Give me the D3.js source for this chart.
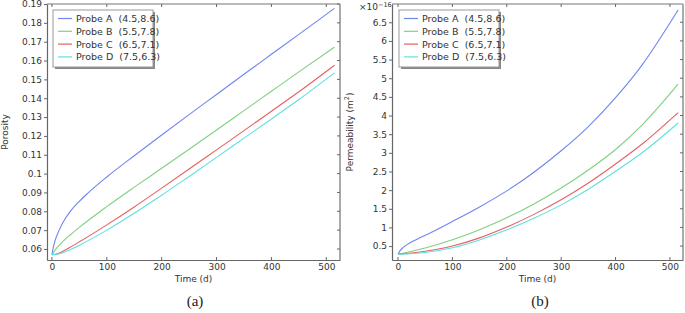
<!DOCTYPE html>
<html><head><meta charset="utf-8">
<script src="https://cdn.jsdelivr.net/npm/d3@7"></script>
<style>body{margin:0;background:#fff}svg{display:block}</style>
</head><body><svg id="c" width="685" height="313"></svg>
<script>
const probes = ["Probe A  (4.5,8.6)", "Probe B  (5.5,7.8)", "Probe C  (6.5,7.1)", "Probe D  (7.5,6.3)"];
const colors = ["#6f86ee", "#80d080", "#e66060", "#62e0e0"];

// Porosity (a)
const tA = [0, 3, 6, 12, 20, 33, 50, 65, 100, 150, 200, 250, 300, 350, 400, 450, 515];
const poroA = [0.057, 0.0615, 0.0647, 0.0692, 0.0741, 0.0798, 0.0853, 0.0895, 0.0982, 0.1095, 0.1205, 0.1313, 0.1420, 0.1527, 0.1633, 0.1739, 0.1877];
const tBCD = [0, 10, 20, 33, 50, 100, 150, 200, 250, 300, 350, 400, 450, 515];
const poroB = [0.057, 0.061, 0.064, 0.0674, 0.0715, 0.0825, 0.0928, 0.1028, 0.1129, 0.1231, 0.1334, 0.1437, 0.1540, 0.1671];
const poroC = [0.057, 0.0575, 0.0588, 0.0609, 0.0638, 0.0728, 0.0823, 0.0923, 0.1024, 0.1126, 0.1228, 0.1331, 0.1434, 0.1575];
const poroD = [0.057, 0.0572, 0.058, 0.0596, 0.062, 0.070, 0.079, 0.0885, 0.0985, 0.1086, 0.1188, 0.1290, 0.1393, 0.1535];

// Permeability (b), units 1e-16 m^2
const tPA = [0, 4, 10, 20, 35, 60, 100, 150, 200, 250, 300, 350, 400, 450, 500, 515];
const permA = [0.28, 0.38, 0.47, 0.57, 0.685, 0.86, 1.16, 1.55, 1.98, 2.48, 3.055, 3.705, 4.48, 5.38, 6.48, 6.83];
const tP = [0, 50, 100, 150, 200, 250, 300, 350, 400, 450, 515];
const permB = [0.28, 0.45, 0.67, 0.94, 1.26, 1.63, 2.055, 2.54, 3.09, 3.765, 4.84];
const permC = [0.28, 0.36, 0.50, 0.72, 1.01, 1.35, 1.74, 2.19, 2.70, 3.25, 4.08];
const permD = [0.28, 0.33, 0.455, 0.665, 0.935, 1.245, 1.605, 2.025, 2.505, 3.015, 3.80];

const xTicks = [0, 100, 200, 300, 400, 500];
const poroTicks = [0.06, 0.07, 0.08, 0.09, 0.1, 0.11, 0.12, 0.13, 0.14, 0.15, 0.16, 0.17, 0.18, 0.19];
const permTicks = [0.5, 1, 1.5, 2, 2.5, 3, 3.5, 4, 4.5, 5, 5.5, 6, 6.5];

const svg = d3.select("#c");
const font = "DejaVu Sans, sans-serif";

function panel(cfg) {
  const {x0, x1, y0, y1, xDom, yDom, yTicks, yFmt, series, ylab, ylabX, legX, cap, capX} = cfg;
  const x = d3.scaleLinear().domain(xDom).range([x0, x1]);
  const y = d3.scaleLinear().domain(yDom).range([y1, y0]);
  const g = svg.append("g");
  g.append("line").attr("x1", x0).attr("x2", x1).attr("y1", y0).attr("y2", y0).attr("stroke", "#777").attr("stroke-width", 1);
  g.append("line").attr("x1", x1).attr("x2", x1).attr("y1", y0).attr("y2", y1).attr("stroke", "#aaa").attr("stroke-width", 2);
  xTicks.forEach(v => {
    g.append("line").attr("x1", x(v)).attr("x2", x(v)).attr("y1", y0).attr("y2", y0 + 3).attr("stroke", "#666");
    g.append("line").attr("x1", x(v)).attr("x2", x(v)).attr("y1", y1).attr("y2", y1 - 3).attr("stroke", "#666");
  });
  yTicks.forEach(v => {
    g.append("line").attr("x1", x1).attr("x2", x1 - 3).attr("y1", y(v)).attr("y2", y(v)).attr("stroke", "#666");
  });
  const xa = g.append("g").attr("transform", `translate(0,${y1})`)
    .call(d3.axisBottom(x).tickValues(xTicks).tickSize(0).tickPadding(4).tickFormat(d3.format("d")));
  xa.select(".domain").attr("stroke", "#666").attr("stroke-width", 1.2);
  xa.selectAll("text").attr("font-family", font).attr("font-size", 9).attr("fill", "#333");
  const ya = g.append("g").attr("transform", `translate(${x0},0)`)
    .call(d3.axisLeft(y).tickValues(yTicks).tickSizeInner(3).tickSizeOuter(0).tickPadding(2).tickFormat(yFmt));
  ya.select(".domain").attr("stroke", "#666").attr("stroke-width", 1.2);
  ya.selectAll(".tick line").attr("stroke", "#666");
  ya.selectAll("text").attr("font-family", font).attr("font-size", 9).attr("fill", "#333");
  const clipId = "clip" + x0;
  g.append("clipPath").attr("id", clipId).append("rect").attr("x", x0).attr("y", y0).attr("width", x1 - x0).attr("height", y1 - y0);
  const line = d3.line().curve(d3.curveMonotoneX).x(d => x(d[0])).y(d => y(d[1]));
  series.forEach((s, i) => {
    g.append("path").datum(s.t.map((t, k) => [t, s.v[k]]))
      .attr("d", line).attr("fill", "none").attr("stroke", colors[i]).attr("stroke-width", 1.1)
      .attr("clip-path", `url(#${clipId})`);
  });
  const lg = g.append("g").attr("transform", `translate(${legX},10)`);
  const lw = 100, lh = 57;
  lg.append("rect").attr("x", 2).attr("y", 2).attr("width", lw).attr("height", lh).attr("fill", "#888");
  lg.append("rect").attr("x", 0).attr("y", 0).attr("width", lw).attr("height", lh).attr("fill", "#fff").attr("stroke", "#999").attr("stroke-width", 1);
  probes.forEach((p, i) => {
    const yy = 8.5 + i * 12.8;
    lg.append("line").attr("x1", 5).attr("x2", 19).attr("y1", yy).attr("y2", yy).attr("stroke", colors[i]).attr("stroke-width", 1.2);
    lg.append("text").attr("x", 23).attr("y", yy + 3.5).attr("font-family", font).attr("font-size", 9.5).attr("fill", "#333")
      .attr("xml:space", "preserve").style("white-space", "pre").text(p);
  });
  const yc = (y0 + y1) / 2;
  const yl = g.append("text").attr("transform", `translate(${ylabX},${yc}) rotate(-90)`).attr("text-anchor", "middle")
    .attr("font-family", font).attr("font-size", 9).attr("fill", "#333");
  ylab(yl);
  g.append("text").attr("x", (x0 + x1) / 2).attr("y", y1 + 22).attr("text-anchor", "middle")
    .attr("font-family", font).attr("font-size", 9).attr("fill", "#333").text("Time (d)");
  g.append("text").attr("x", capX).attr("y", 306).attr("text-anchor", "middle")
    .attr("font-family", "Liberation Serif, serif").attr("font-size", 15).attr("fill", "#222").text(cap);
  return {x, y};
}

panel({
  x0: 47, x1: 340, y0: 4, y1: 260, xDom: [-9, 525], yDom: [0.05415, 0.19],
  yTicks: poroTicks, yFmt: d => d3.format("")(+d.toFixed(2)),
  series: [{t: tA, v: poroA}, {t: tBCD, v: poroB}, {t: tBCD, v: poroC}, {t: tBCD, v: poroD}],
  ylab: t => t.text("Porosity"), ylabX: 8, legX: 53, cap: "(a)", capX: 195
});

panel({
  x0: 392, x1: 683, y0: 4, y1: 260, xDom: [-11, 524], yDom: [0.127, 6.99],
  yTicks: permTicks, yFmt: d => String(d),
  series: [{t: tPA, v: permA}, {t: tP, v: permB}, {t: tP, v: permC}, {t: tP, v: permD}],
  ylab: t => { t.append("tspan").text("Permeability (m"); t.append("tspan").attr("dy", -4).attr("font-size", 6.5).text("2"); t.append("tspan").attr("dy", 4).text(")"); },
  ylabX: 353, legX: 399, cap: "(b)", capX: 540
});

const ex = svg.append("text").attr("x", 359).attr("y", 10).attr("font-family", font).attr("font-size", 9).attr("fill", "#333");
ex.append("tspan").text("×10");
ex.append("tspan").attr("dy", -3).attr("font-size", 6.5).text("−16");
</script></body></html>
